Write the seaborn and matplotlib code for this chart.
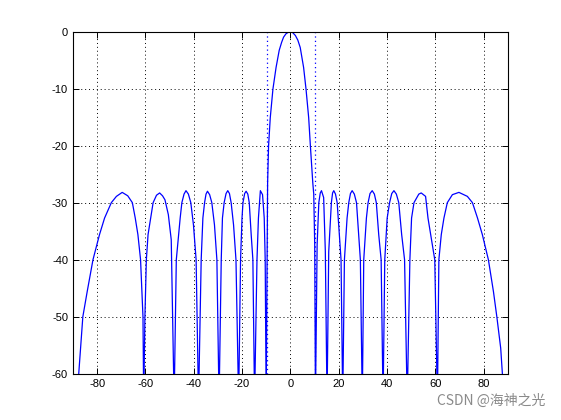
import numpy as np
import pandas as pd
import matplotlib
matplotlib.use("Agg")
import matplotlib.pyplot as plt
import seaborn as sns

# Beam pattern (angle in degrees, level in dB).
# Nulls that run out of the axes are given as -65 and get clipped at -60.
angle = [
    -87.6, -85.9, -84.1, -81.7, -79.0, -76.9, -74.1, -72.0, -69.6, -67.3, -65.4, -64.2, -63.1, -62.0, -61.0, -60.7,
    -60.2, -59.6, -58.9, -56.8, -55.4, -54.1, -52.9, -51.9, -50.5, -49.3, -48.1,
    -47.2, -45.6, -44.9, -44.0, -43.2, -42.2, -41.2, -40.1, -39.0, -38.0,
    -36.9, -36.2, -35.5, -34.9, -34.3, -33.4, -32.5, -31.4, -30.4, -29.5,
    -28.6, -28.1, -27.4, -26.6, -25.9, -25.2, -24.5, -23.5, -22.5, -21.4,
    -20.6, -20.0, -19.6, -18.9, -18.3, -17.6, -17.0, -16.2, -15.5, -14.8,
    -13.8, -13.2, -12.4, -11.5, -10.8, -10.4, -10.0,
    -9.4, -9.0, -8.3, -7.2, -5.9, -4.6, -3.6, -2.8, -1.8, -0.7, 0.0, 1.0, 2.1, 3.1, 4.1, 5.5, 6.5, 7.6, 8.3, 9.3, 9.7, 10.1, 10.4,
    11.1, 11.8, 12.4, 12.9, 13.8, 14.5, 15.2,
    15.9, 17.0, 17.5, 18.0, 18.7, 19.4, 20.3, 21.0, 21.7,
    22.4, 23.5, 24.2, 24.9, 25.6, 26.5, 27.4, 28.3, 29.0, 29.8,
    30.4, 31.5, 32.2, 33.0, 33.9, 34.8, 35.6, 36.6, 37.6, 38.4,
    39.1, 40.1, 41.1, 42.0, 42.9, 43.9, 44.9, 46.1, 47.3, 48.4,
    49.5, 50.2, 51.2, 53.2, 54.2, 56.0, 57.0, 58.1, 59.8, 60.9,
    61.5, 62.5, 63.6, 65.0, 67.1, 69.8, 73.3, 75.4, 77.5, 79.5, 82.0, 84.1, 85.5, 87.1, 87.8,
]
level_db = [
    -60.0, -50.0, -45.6, -40.0, -35.6, -32.7, -30.0, -28.9, -28.2, -28.8, -30.0, -32.7, -35.6, -40.0, -50.0, -65.0,
    -50.0, -40.0, -35.6, -30.0, -28.7, -28.3, -28.8, -29.5, -32.1, -36.5, -65.0,
    -40.0, -32.7, -30.0, -28.5, -27.9, -28.5, -30.0, -33.9, -40.0, -65.0,
    -40.0, -32.7, -30.0, -28.5, -28.0, -28.6, -30.0, -33.9, -40.0, -65.0,
    -40.0, -32.7, -30.0, -28.4, -27.9, -28.4, -30.0, -33.9, -40.0, -65.0,
    -40.0, -32.7, -30.0, -28.4, -28.0, -28.5, -30.0, -35.6, -40.0, -65.0,
    -40.0, -32.7, -27.9, -28.6, -32.7, -40.0, -65.0,
    -26.5, -20.0, -15.1, -10.1, -6.3, -3.3, -1.9, -1.0, -0.4, -0.1, 0.0, -0.2, -0.7, -1.5, -2.8, -6.3, -10.1, -15.1, -20.0, -26.5, -28.5, -37.4, -65.0,
    -37.4, -30.0, -28.3, -27.9, -29.1, -38.6, -65.0,
    -38.6, -30.0, -28.3, -27.9, -28.5, -30.0, -35.6, -40.0, -65.0,
    -40.0, -32.7, -30.0, -28.4, -27.9, -28.5, -30.0, -35.6, -40.0, -65.0,
    -40.0, -32.7, -30.0, -28.4, -27.9, -28.5, -30.0, -35.6, -40.0, -65.0,
    -40.0, -32.7, -30.0, -28.4, -27.9, -28.5, -30.0, -35.6, -40.0, -65.0,
    -40.0, -32.7, -30.0, -28.5, -28.3, -28.9, -32.7, -35.6, -40.0, -65.0,
    -40.0, -35.6, -32.7, -30.0, -28.6, -28.2, -28.9, -30.0, -32.7, -35.6, -40.0, -45.6, -50.0, -55.5, -60.0,
]
# Dotted blue markers at the first nulls of the main lobe.
main_lobe_marks = [-9.7, 10.1]

x_ticks = [-80, -60, -40, -20, 0, 20, 40, 60, 80]
y_ticks = [0, -10, -20, -30, -40, -50, -60]

sns.set_style("white")
plt.rcParams['font.family'] = ['Liberation Sans', 'DejaVu Sans']
plt.rcParams['axes.unicode_minus'] = False

pattern = pd.DataFrame({'angle': angle, 'db': level_db})

fig = plt.figure(figsize=(5.61, 4.2), dpi=100)
ax = fig.add_axes([0.13, 0.11, 0.775, 0.815])

sns.lineplot(data=pattern, x='angle', y='db', sort=False, estimator=None,
             color='#0000ff', linewidth=0.9, ax=ax)
for m in main_lobe_marks:
    ax.axvline(m, color='#0000ff', linestyle=(0, (1, 2.5)), linewidth=0.9)

ax.set_xlim(-90, 90)
ax.set_ylim(-60, 0)
ax.set_xticks(x_ticks)
ax.set_yticks(y_ticks)
ax.set_xticklabels([str(t) for t in x_ticks])
ax.set_yticklabels([str(t) for t in y_ticks])
ax.set_xlabel('')
ax.set_ylabel('')

ax.grid(True, color='black', linestyle=(0, (1, 3)), linewidth=0.7)
ax.tick_params(direction='in', length=4, width=0.7, labelsize=8,
               top=True, right=True, bottom=True, left=True, colors='black')
for s in ax.spines.values():
    s.set_color('black')
    s.set_linewidth(0.8)

fig.text(0.972, 0.028, 'CSDN @海神之光', ha='right', va='bottom', fontsize=10,
         color='#8a8a8a', family=['Noto Sans CJK SC', 'DejaVu Sans'])

fig.savefig('out.png', dpi=100, facecolor='white')
